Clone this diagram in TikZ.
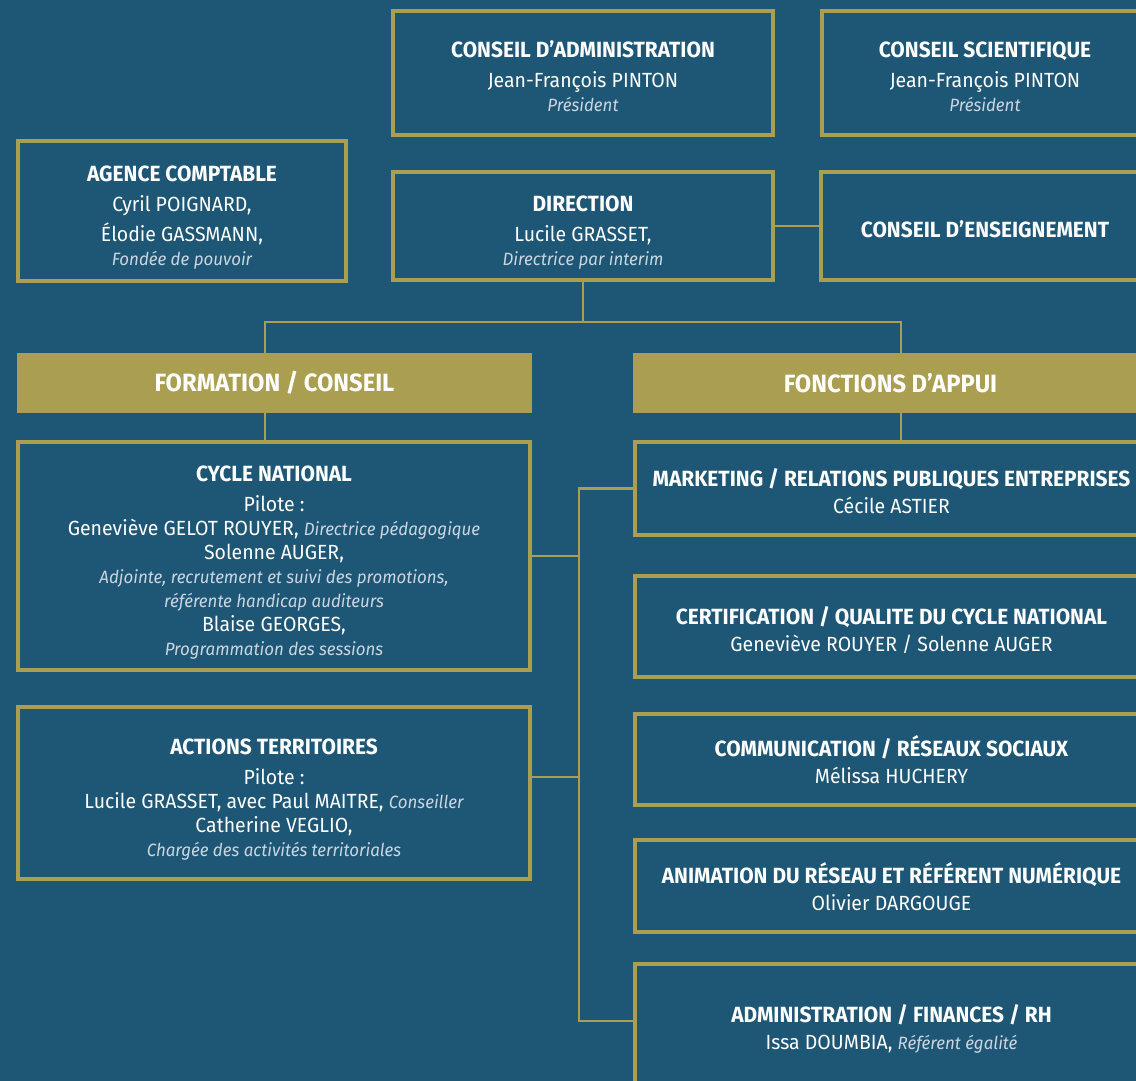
\documentclass[tikz,border=0pt]{standalone}
\usepackage{fontspec}
\setmainfont{Fira Sans}[FakeStretch=0.95]
\usetikzlibrary{positioning}
\definecolor{fondbleu}{rgb}{0.118,0.337,0.463}
\definecolor{ffdor}{rgb}{0.667,0.620,0.314}
\definecolor{pale}{rgb}{0.80,0.84,0.88}
\newcommand{\titre}[1]{{\bfseries\fontsize{22}{26}\selectfont #1}}
\newcommand{\tete}[1]{\rule{0pt}{28pt}\titre{#1}}
\newcommand{\fonction}[1]{{\itshape\color{pale}\fontsize{17.8}{24}\selectfont #1}}

\begin{document}
\begin{tikzpicture}[x=1pt,y=-1pt,
		cadre/.style={draw=ffdor, line width=4pt, fill=fondbleu, text=white, align=center, inner sep=0pt, font=\fontsize{20.5}{24}\selectfont},
		bandeau/.style={fill=ffdor, text=white, inner sep=0pt, font=\bfseries\fontsize{25}{28}\selectfont},
		lien/.style={draw=ffdor, line width=2.5pt}]
			\useasboundingbox (0,0) rectangle (1136,1081);
			\fill [fondbleu] (0,0) rectangle (1136,1081);
			\clip (0,0) rectangle (1136,1081);
			% haut
			\node [cadre, minimum width=380, minimum height=124] (ca) at (583,73) {\rule{0pt}{24pt}\titre{CONSEIL D'ADMINISTRATION}\\[6pt] Jean-François PINTON\\ \fonction{Président}};
			\node [cadre, minimum width=326, minimum height=124] (cs) at (985,73) {\rule{0pt}{24pt}\titre{CONSEIL SCIENTIFIQUE}\\[6pt] Jean-François PINTON\\ \fonction{Président}};
			\node [cadre, minimum width=328, minimum height=140] (ac) at (182,211) {\tete{AGENCE COMPTABLE}\\[6pt] Cyril POIGNARD,\\[6pt] Élodie GASSMANN,\\ \fonction{Fondée de pouvoir}};
			\node [cadre, minimum width=380, minimum height=108] (dir) at (583,226) {\tete{DIRECTION}\\[6pt] Lucile GRASSET,\\ \fonction{Directrice par interim}};
			\node [cadre, minimum width=328, minimum height=108] (ens) at (985,226) {\rule{0pt}{24pt}\titre{CONSEIL D'ENSEIGNEMENT}};
			% bandeaux
			\node [bandeau, minimum width=515, minimum height=60] (form) at (274.5,383) {FORMATION / CONSEIL};
			\node [bandeau, minimum width=515, minimum height=60] (fonc) at (890.5,383) {FONCTIONS D'APPUI};
			% formation / conseil
			\node [cadre, minimum width=512, minimum height=228] (cyc) at (274,556) {\tete{CYCLE NATIONAL}\\[6pt] Pilote :\\ Geneviève GELOT ROUYER, \fonction{Directrice pédagogique}\\ Solenne AUGER,\\ \fonction{Adjointe, recrutement et suivi des promotions,}\\ \fonction{référente handicap auditeurs}\\ Blaise GEORGES,\\ \fonction{Programmation des sessions}};
			\node [cadre, minimum width=512, minimum height=172] (act) at (274,793) {\tete{ACTIONS TERRITOIRES}\\[6pt] Pilote :\\ Lucile GRASSET, avec Paul MAITRE, \fonction{Conseiller}\\ Catherine VEGLIO,\\ \fonction{Chargée des activités territoriales}};
			% fonctions d'appui
			\node [cadre, minimum width=513, minimum height=93] (mkt) at (891.5,488.5) {\rule{0pt}{24pt}\titre{MARKETING / RELATIONS PUBLIQUES ENTREPRISES}\\[3pt] Cécile ASTIER};
			\node [cadre, minimum width=513, minimum height=101] (cert) at (891.5,626.5) {\rule{0pt}{26pt}\titre{CERTIFICATION / QUALITE DU CYCLE NATIONAL}\\[3pt] Geneviève ROUYER / Solenne AUGER};
			\node [cadre, minimum width=513, minimum height=91] (com) at (891.5,759.5) {\rule{0pt}{20pt}\titre{COMMUNICATION / RÉSEAUX SOCIAUX}\\[3pt] Mélissa HUCHERY};
			\node [cadre, minimum width=513, minimum height=92] (ani) at (891.5,886) {\rule{0pt}{22pt}\titre{ANIMATION DU RÉSEAU ET RÉFÉRENT NUMÉRIQUE}\\[3pt] Olivier DARGOUGE};
			\node [cadre, minimum width=513, minimum height=130] (adm) at (891.5,1029) {\titre{ADMINISTRATION / FINANCES / RH}\\[3pt] Issa DOUMBIA, \fonction{Référent égalité}};
			% liens
			\coordinate (embG) at (265,322);
			\coordinate (embD) at (901,322);
			\coordinate (busbas) at (579,1021);
			\coordinate (actlien) at (532,777);
			\draw [lien] (dir.east) -- (ens.west);
			\draw [lien] (dir.south) -- (dir.south |- embG);
			\draw [lien] (embG |- form.north) -- (embG) -- (embD) -- (embD |- fonc.north);
			\draw [lien] (embG |- form.south) -- (embG |- cyc.north);
			\draw [lien] (embD |- fonc.south) -- (embD |- mkt.north);
			\draw [lien] (mkt.west) -| (busbas) -- (busbas -| adm.west);
			\draw [lien] (cyc.east) -- (cyc.east -| busbas);
			\draw [lien] (act.east |- actlien) -- (actlien -| busbas);
		\end{tikzpicture}
\end{document}
